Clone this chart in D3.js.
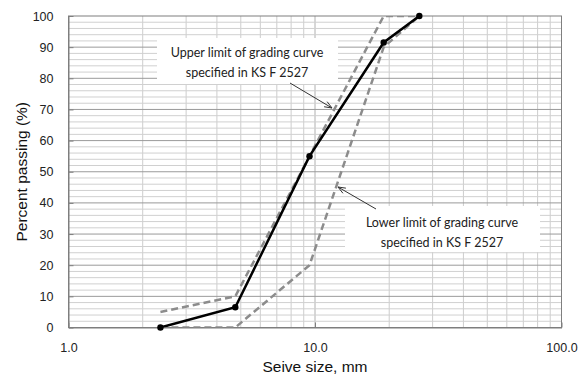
<!DOCTYPE html>
<html>
<head>
<meta charset="utf-8">
<script src="https://cdn.jsdelivr.net/npm/d3@7"></script>
<style>
  html, body { margin: 0; padding: 0; background: #fff; }
  svg { display: block; }
</style>
</head>
<body>
<svg id="chart" width="588" height="380"></svg>
<script>
// Sieve sizes (mm) and percent passing
const sieveSizes   = [2.36, 4.75, 9.5, 19, 26.5];
const measured     = [0, 6.5, 55, 91.5, 100];
const upperSizes   = [2.36, 4.75, 9.5, 19, 26.5];
const upperLimit   = [5, 10, 55, 100, 100];
const lowerSizes   = [2.36, 4.75, 9.5, 19, 26.5];
const lowerLimit   = [0, 0, 20, 90, 100];
const xTickValues  = [1, 10, 100];
const xTickLabels  = ["1.0", "10.0", "100.0"];
const yTickValues  = [0, 10, 20, 30, 40, 50, 60, 70, 80, 90, 100];
const upperNote    = ["Upper limit of grading curve", "specified in KS F 2527"];
const lowerNote    = ["Lower limit of grading curve", "specified in KS F 2527"];

const svg = d3.select("#chart");
const L = 68.5, R = 561.5, T = 16, B = 327.5;

const x = d3.scaleLog().domain([1, 100]).range([L, R]);
const y = d3.scaleLinear().domain([0, 100]).range([B, T]);

svg.append("defs").append("clipPath").attr("id", "plot-clip")
  .append("rect").attr("x", L).attr("y", T).attr("width", R - L).attr("height", B - T);

// Grid: minor vertical lines at 2..9 of each decade, minor horizontal every 2 %
const minorX = [];
[1, 10].forEach(d => { for (let k = 2; k <= 9; k++) minorX.push(d * k); });
const grid = svg.append("g");
grid.selectAll("line.vx").data(minorX).join("line")
  .attr("x1", d => x(d)).attr("x2", d => x(d))
  .attr("y1", T).attr("y2", B)
  .attr("stroke", "#cdcdcd").attr("stroke-width", 1);
grid.selectAll("line.vmaj").data([10]).join("line")
  .attr("x1", d => x(d)).attr("x2", d => x(d))
  .attr("y1", T).attr("y2", B)
  .attr("stroke", "#b0b0b0").attr("stroke-width", 1);
const minorY = d3.range(2, 100, 2).filter(v => v % 10 !== 0);
grid.selectAll("line.hy").data(minorY).join("line")
  .attr("x1", L).attr("x2", R)
  .attr("y1", d => y(d)).attr("y2", d => y(d))
  .attr("stroke", "#d0d0d0").attr("stroke-width", 1);
grid.selectAll("line.hmaj").data(yTickValues.slice(1, -1)).join("line")
  .attr("x1", L).attr("x2", R)
  .attr("y1", d => y(d)).attr("y2", d => y(d))
  .attr("stroke", "#9a9a9a").attr("stroke-width", 1);

// Annotation boxes (white, borderless) sit above the grid
const noteFont = "Lato, 'Open Sans', sans-serif";
function noteBox(x0, y0, w, h) {
  svg.append("rect").attr("x", x0).attr("y", y0).attr("width", w).attr("height", h)
    .attr("fill", "#fff");
}
noteBox(157, 38, 181, 46);
noteBox(345, 206, 195, 46);

// Frame
svg.append("rect").attr("x", L).attr("y", T).attr("width", R - L).attr("height", B - T)
  .attr("fill", "none").attr("stroke", "#7f7f7f").attr("stroke-width", 1);

// Axes
const yAxis = d3.axisLeft(y).tickValues(yTickValues).tickSizeInner(-5).tickSizeOuter(0)
  .tickPadding(15).tickFormat(d3.format("d"));
const gy = svg.append("g").attr("transform", `translate(${L},0)`).call(yAxis);
gy.select(".domain").attr("stroke", "#7f7f7f");
gy.selectAll(".tick line").attr("stroke", "#7f7f7f");
gy.selectAll("text").attr("font-family", "Arial, 'Liberation Sans', sans-serif")
  .attr("font-size", 12.5).attr("fill", "#222");

const xAxis = d3.axisBottom(x).tickValues(xTickValues).tickSizeInner(-5).tickSizeOuter(0)
  .tickPadding(16).tickFormat((d, i) => xTickLabels[i]);
const gx = svg.append("g").attr("transform", `translate(0,${B})`).call(xAxis);
gx.select(".domain").attr("stroke", "#7f7f7f");
gx.selectAll(".tick line").attr("stroke", "#7f7f7f");
gx.selectAll("text").attr("font-family", "Arial, 'Liberation Sans', sans-serif")
  .attr("font-size", 12.5).attr("fill", "#222");

// Axis titles
svg.append("text").attr("x", x(10)).attr("y", 372).attr("text-anchor", "middle")
  .attr("font-family", "Arial, 'Liberation Sans', sans-serif").attr("font-size", 15.5)
  .attr("fill", "#111").text("Seive size, mm");
svg.append("text").attr("transform", `translate(27,${(T + B) / 2}) rotate(-90)`)
  .attr("text-anchor", "middle")
  .attr("font-family", "Arial, 'Liberation Sans', sans-serif").attr("font-size", 15.5)
  .attr("fill", "#111").text("Percent passing (%)");

// Curves, clipped to the plot area
const line = d3.line().x(d => x(d[0])).y(d => y(d[1]));
const zip = (a, b) => a.map((v, i) => [v, b[i]]);
const curves = svg.append("g").attr("clip-path", "url(#plot-clip)");

curves.append("path").datum(zip(lowerSizes, lowerLimit)).attr("d", line)
  .attr("fill", "none").attr("stroke", "#8c8c8c").attr("stroke-width", 2.5)
  .attr("stroke-dasharray", "7,4");
curves.append("path").datum(zip(upperSizes, upperLimit)).attr("d", line)
  .attr("fill", "none").attr("stroke", "#8c8c8c").attr("stroke-width", 2.5)
  .attr("stroke-dasharray", "7,4");
curves.append("path").datum(zip(sieveSizes, measured)).attr("d", line)
  .attr("fill", "none").attr("stroke", "#000").attr("stroke-width", 2.5);
svg.selectAll("circle.pt").data(zip(sieveSizes, measured)).join("circle")
  .attr("cx", d => x(d[0])).attr("cy", d => y(d[1])).attr("r", 3.2).attr("fill", "#000");

// Annotation text and arrows
function noteText(lines, cx, y0) {
  const t = svg.append("text").attr("text-anchor", "middle")
    .attr("font-family", noteFont).attr("font-size", 12.5).attr("fill", "#222");
  lines.forEach((s, i) => t.append("tspan").attr("x", cx).attr("y", y0 + i * 19.5).text(s));
}
noteText(upperNote, 247, 57);
noteText(lowerNote, 442, 227);

function arrow(x1, y1, x2, y2) {
  svg.append("line").attr("x1", x1).attr("y1", y1).attr("x2", x2).attr("y2", y2)
    .attr("stroke", "#333").attr("stroke-width", 1);
  const a = Math.atan2(y2 - y1, x2 - x1), len = 8, spread = 0.38;
  const p = [a + Math.PI - spread, a + Math.PI + spread]
    .map(t => [x2 + len * Math.cos(t), y2 + len * Math.sin(t)]);
  svg.append("path").attr("d", `M${p[0][0]},${p[0][1]}L${x2},${y2}L${p[1][0]},${p[1][1]}`)
    .attr("fill", "none").attr("stroke", "#333").attr("stroke-width", 1);
}
arrow(290, 83, 332, 108);
arrow(376, 209, 338, 187);
</script>
</body>
</html>
